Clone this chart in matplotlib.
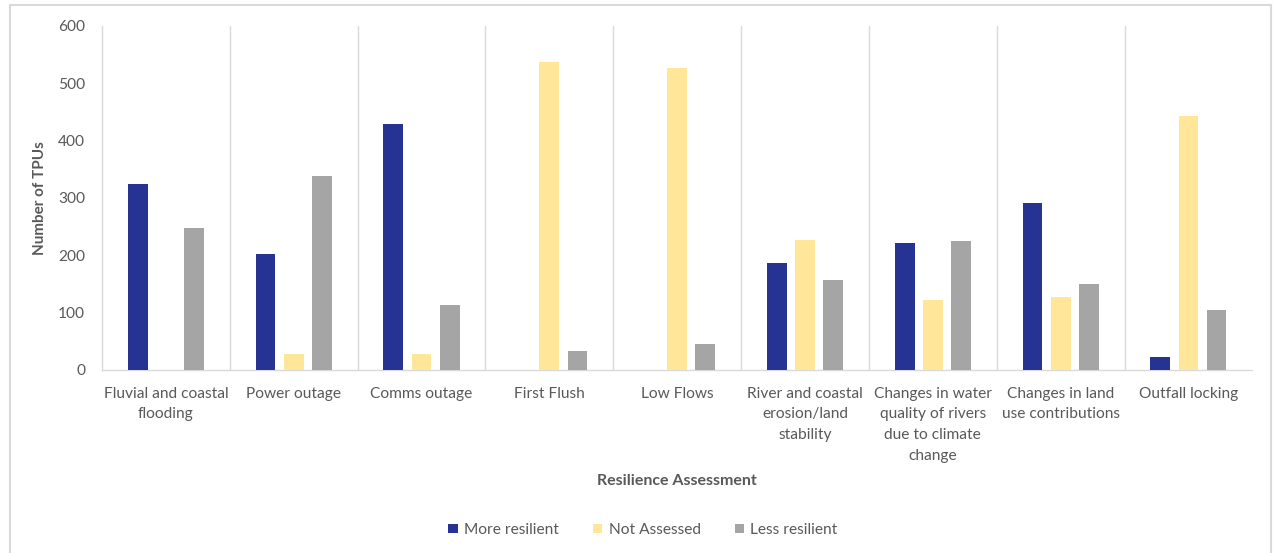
import numpy as np
import matplotlib.pyplot as plt
from matplotlib.lines import Line2D
from matplotlib.patches import Patch

categories = [
    "Fluvial and coastal\nflooding",
    "Power outage",
    "Comms outage",
    "First Flush",
    "Low Flows",
    "River and coastal\nerosion/land\nstability",
    "Changes in water\nquality of rivers\ndue to climate\nchange",
    "Changes in land\nuse contributions",
    "Outfall locking",
]
more_resilient = [324, 202, 429, 0, 0, 187, 222, 291, 23]
not_assessed = [0, 28, 28, 537, 527, 227, 122, 127, 443]
less_resilient = [248, 338, 113, 33, 45, 157, 225, 150, 105]

series_names = ["More resilient", "Not Assessed", "Less resilient"]
colors = ["#263392", "#FFE699", "#A5A5A5"]
text_col = "#595959"
grid_col = "#D9D9D9"

plt.rcParams['font.family'] = ['Lato', 'DejaVu Sans']

fig = plt.figure(figsize=(12.74, 5.53), dpi=100)
ax = fig.add_axes([0.080, 0.331, 0.903, 0.622])

x = np.arange(len(categories))
w = 0.155
off = 0.22
for vals, name, c, dx in zip([more_resilient, not_assessed, less_resilient],
                             series_names, colors, [-off, 0, off]):
    ax.bar(x + dx, vals, width=w, color=c, label=name, zorder=3)

ax.set_xlim(-0.5, len(categories) - 0.5)
ax.set_ylim(0, 600)
ax.set_yticks(range(0, 601, 100))
ax.set_xticks(x)
ax.set_xticklabels(categories, fontsize=11.2, color=text_col, linespacing=1.62)
ax.tick_params(axis='y', labelsize=11.2, labelcolor=text_col, length=0, pad=12)
ax.tick_params(axis='x', length=0, pad=12)

# vertical separators between categories
for b in np.arange(0.5, len(categories) - 0.5, 1):
    ax.axvline(b, color=grid_col, lw=1, zorder=1)

for s in ['top', 'right']:
    ax.spines[s].set_visible(False)
for s in ['left', 'bottom']:
    ax.spines[s].set_color(grid_col)
    ax.spines[s].set_linewidth(1)

ax.set_ylabel("Number of TPUs", fontsize=11, color=text_col, fontweight='bold', labelpad=8)
fig.text(677 / 1274, 1 - 481 / 553, "Resilience Assessment", fontsize=11.5,
         color=text_col, fontweight='bold', ha='center', va='center')

handles = [Patch(facecolor=c, edgecolor='none') for c in colors]
fig.legend(handles, series_names, loc='center', bbox_to_anchor=(643 / 1274, 1 - 530 / 553),
           ncol=3, frameon=False, fontsize=11.2, labelcolor=text_col,
           handlelength=0.6, handleheight=0.6, columnspacing=2.2, handletextpad=0.4)

# outer chart border
bx0, bx1 = 10 / 1274, 1271 / 1274
by1 = 1 - 5 / 553
fig.add_artist(Line2D([bx0, bx1], [by1, by1], color=grid_col, lw=1.5, transform=fig.transFigure))
fig.add_artist(Line2D([bx0, bx0], [0, by1], color=grid_col, lw=1.5, transform=fig.transFigure))
fig.add_artist(Line2D([bx1, bx1], [0, by1], color=grid_col, lw=1.5, transform=fig.transFigure))

fig.savefig("out.png", dpi=100)
